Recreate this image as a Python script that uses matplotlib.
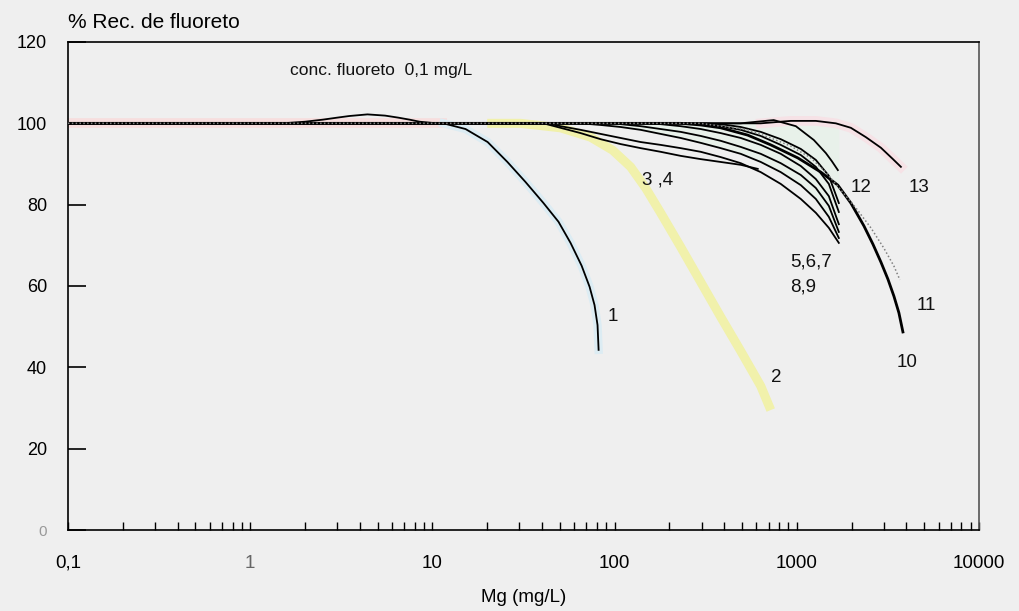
import matplotlib
matplotlib.use("Agg")
import matplotlib.pyplot as plt
from matplotlib.ticker import FixedLocator, NullFormatter, LogLocator

plt.rcParams['font.family'] = ['Liberation Sans', 'DejaVu Sans']

# ---- data (Mg in mg/L, % recovery of fluoride) ----
c1_x = [0.1, 1.5, 2.0, 2.5, 3.0, 3.5, 4.4, 5.5, 6.5, 7.5, 8.5, 10.0, 11.5, 15.2, 20.1,
        25.8, 32.4, 40.7, 49.2, 57.3, 65.9, 72.9, 77.6, 80.6, 81.7]
c1_y = [100, 100, 100.4, 100.9, 101.4, 101.8, 102.2, 101.9, 101.4, 100.9, 100.4, 100.1, 100,
        98.6, 95.4, 90.5, 85.6, 80.4, 75.8, 70.6, 65.0, 59.8, 55.3, 50.4, 44.3]

c2_x = [20, 30.4, 50.5, 73.8, 97.5, 122.4, 148, 178.9, 230.5, 296.8, 382.3, 492.4, 634.1, 719.6]
c2_y = [100, 100, 98.9, 96.6, 93.4, 89.3, 84.1, 78.0, 69.6, 61.0, 52.4, 44.0, 35.4, 29.5]

c3_x = [0.1, 40.7, 50.5, 65.1, 83.8, 107.9, 139.0, 178.9, 230.5, 296.8, 382.3, 492.4, 610.6]
c3_y = [100, 100, 98.9, 97.6, 96.1, 94.9, 93.9, 93.0, 92.0, 91.2, 90.5, 89.8, 88.8]

c4_x = [0.1, 42.8, 50.5, 65.1, 83.8, 107.9, 139.0, 178.9, 230.5, 296.8, 382.3, 492.4,
        634.1, 816.5, 1051.9, 1272, 1499, 1701]
c4_y = [100, 100, 99.3, 98.4, 97.4, 96.4, 95.4, 94.7, 93.9, 93.0, 91.7, 90.2,
        88.0, 85.1, 81.4, 78.0, 74.3, 70.6]

c5_x = [0.1, 65.1, 83.8, 107.9, 139.0, 178.9, 230.5, 296.8, 382.3, 492.4, 634.1, 816.5,
        1051.9, 1272, 1499, 1701]
c5_y = [100, 100, 99.6, 99.1, 98.4, 97.4, 96.4, 95.2, 93.9, 92.5, 90.5, 88.0,
        84.8, 81.4, 77.0, 71.8]

c6_x = [0.1, 98.7, 107.9, 139.0, 178.9, 230.5, 296.8, 382.3, 492.4, 634.1, 816.5,
        1051.9, 1272, 1499, 1701]
c6_y = [100, 100, 99.8, 99.3, 98.6, 97.9, 96.9, 95.7, 94.2, 92.5, 90.2,
        87.3, 84.1, 79.7, 73.3]

c7_x = [0.1, 139.0, 178.9, 230.5, 296.8, 382.3, 492.4, 634.1, 816.5, 1051.9, 1272, 1499, 1701]
c7_y = [100, 100, 99.8, 99.3, 98.6, 97.6, 96.4, 94.7, 92.5, 89.5, 86.3, 82.1, 75.2]

c8_x = [0.1, 230.5, 296.8, 382.3, 492.4, 634.1, 816.5, 1051.9, 1272, 1499, 1701]
c8_y = [100, 100, 99.8, 99.3, 98.4, 96.9, 94.7, 92.2, 89.3, 85.1, 78.2]

c9_x = [0.1, 296.8, 382.3, 492.4, 634.1, 816.5, 1051.9, 1272, 1499, 1701]
c9_y = [100, 100, 99.8, 99.1, 97.9, 96.1, 93.7, 91.0, 87.1, 80.4]

c10_x = [0.1, 230.5, 296.8, 382.3, 538, 719.6, 1012.7, 1355, 1680, 1980, 2334, 2616,
         2894, 3162, 3412, 3634, 3823]
c10_y = [100, 100, 99.6, 98.9, 97.1, 94.7, 91.5, 88.0, 84.8, 80.4, 74.8, 70.3,
         65.9, 61.7, 57.5, 53.4, 48.7]

c11_x = [0.1, 296.8, 538, 719.6, 927, 1194, 1443, 1745, 2110, 2551, 3006, 3412, 3680]
c11_y = [100, 100, 98.4, 96.4, 94.4, 91.5, 88.0, 83.6, 79.2, 74.3, 69.3, 64.9, 61.5]

c12_x = [0.1, 492, 747, 988, 1240, 1443, 1557, 1680]
c12_y = [100, 100, 100.8, 99.3, 95.9, 92.7, 90.7, 88.5]

c13_x = [0.1, 634, 927, 1272, 1638, 1980, 2394, 2894, 3370, 3727]
c13_y = [100, 100, 100.6, 100.6, 100, 98.9, 96.6, 94.0, 91.2, 89.3]

x_ticks = [0.1, 1, 10, 100, 1000, 10000]
x_ticklabels = ['0,1', '1', '10', '100', '1000', '10000']
y_ticks = [0, 20, 40, 60, 80, 100, 120]
y_ticklabels = ['0', '20', '40', '60', '80', '100', '120']

curve_labels = ['1', '2', '3 ,4', '5,6,7', '8,9', '10', '11', '12', '13']
label_pos = [(97.5, 52.4), (767, 37.6), (172, 86.1), (916, 65.9), (916, 59.8),
             (4018, 41.1), (5114, 55.3), (2249, 84.1), (4677, 84.3)]
label_ha = ['center', 'center', 'center', 'left', 'left', 'center', 'center', 'center', 'center']

# ---- figure ----
bg = '#efefef'
fig = plt.figure(figsize=(10.19, 6.11), dpi=100, facecolor=bg)
ax = fig.add_axes([68/1019, 81/611, 911/1019, 488/611], facecolor=bg)
ax.set_xscale('log')
ax.set_xlim(0.1, 10000)
ax.set_ylim(0, 120)

# faint scan tints
ax.plot([0.1, 12], [100, 100], color='#f7dede', lw=7, solid_capstyle='butt', zorder=1)
ax.plot(c1_x[12:], c1_y[12:], color='#dcecf3', lw=6, zorder=1)
ax.fill_between(c5_x, c5_y, [100] * len(c5_x), color='#e3f3e6', alpha=0.55, zorder=1, lw=0)
ax.plot(c13_x[1:], c13_y[1:], color='#f6e2e6', lw=7, zorder=1)

# curve 2 (pale yellow, wide)
ax.plot(c2_x, c2_y, color='#f1f1ab', lw=6.5, solid_capstyle='butt', zorder=2)

thin = dict(color='black', lw=1.3, zorder=3)
ax.plot(c1_x, c1_y, **thin)
for cx, cy in [(c3_x, c3_y), (c4_x, c4_y), (c5_x, c5_y), (c6_x, c6_y),
               (c7_x, c7_y), (c8_x, c8_y), (c9_x, c9_y), (c12_x, c12_y), (c13_x, c13_y)]:
    ax.plot(cx, cy, **thin)
ax.plot(c10_x, c10_y, color='black', lw=2.0, zorder=4)
ax.plot(c11_x, c11_y, color='#808080', lw=1.1, ls=(0, (1, 1.5)), zorder=4)

fs = 13.5
for txt, (px, py), ha in zip(curve_labels, label_pos, label_ha):
    ax.text(px, py, txt, ha=ha, va='center', fontsize=fs, color='#111111', zorder=5)

ax.text(1.66, 112.9, 'conc. fluoreto  0,1 mg/L', ha='left', va='center', fontsize=12.5, color='#111111')

# axes styling
for s in ['left', 'bottom', 'top']:
    ax.spines[s].set_color('black')
    ax.spines[s].set_linewidth(1.2)
ax.spines['right'].set_color('#555555')
ax.spines['right'].set_linewidth(1.2)

ax.xaxis.set_major_locator(FixedLocator(x_ticks))
ax.set_xticklabels(x_ticklabels)
ax.xaxis.set_minor_locator(LogLocator(base=10, subs=range(2, 10)))
ax.xaxis.set_minor_formatter(NullFormatter())
ax.tick_params(axis='x', which='both', direction='in', length=6, width=1, top=False,
               labelsize=fs, pad=18)
ax.set_yticks(y_ticks)
ax.set_yticklabels(y_ticklabels)
ax.tick_params(axis='y', which='both', direction='in', length=13, width=1.2, right=False,
               labelsize=13, pad=15)
ax.get_yticklabels()[0].set_color('#999999')
ax.get_yticklabels()[0].set_fontsize(11)
ax.get_xticklabels()[1].set_color('#666666')

ax.set_xlabel('Mg (mg/L)', fontsize=fs, labelpad=12)
fig.text(68/1019, 1 - 22/611, '% Rec. de fluoreto', ha='left', va='center', fontsize=15)

fig.savefig('out.png', dpi=100, facecolor=bg)
